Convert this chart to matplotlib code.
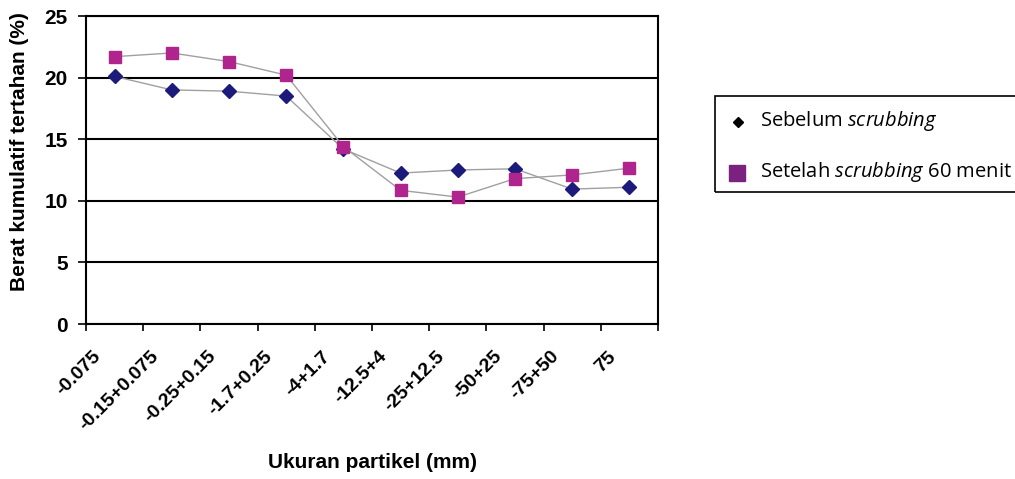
import matplotlib
matplotlib.use("Agg")
import matplotlib.pyplot as plt
from matplotlib.lines import Line2D
from matplotlib.patches import Rectangle
from matplotlib.transforms import ScaledTranslation

categories = ["-0.075", "-0.15+0.075", "-0.25+0.15", "-1.7+0.25", "-4+1.7",
              "-12.5+4", "-25+12.5", "-50+25", "-75+50", "75"]
sebelum = [20.1, 19.0, 18.9, 18.5, 14.2, 12.25, 12.5, 12.6, 10.95, 11.1]
setelah = [21.7, 22.0, 21.3, 20.2, 14.4, 10.85, 10.3, 11.8, 12.1, 12.65]
yticks = [0, 5, 10, 15, 20, 25]

plt.rcParams['mathtext.fontset'] = 'custom'
plt.rcParams['mathtext.rm'] = 'Open Sans'
plt.rcParams['mathtext.it'] = 'Open Sans:italic'

W, H = 1015, 479
fig = plt.figure(figsize=(W/100, H/100), dpi=100)
ax = fig.add_axes([86/W, 1-324/H, (658-86)/W, (324-16)/H])

FS = 15
x = list(range(len(categories)))
ax.plot(x, sebelum, color='#a0a0a0', lw=1.0, marker='D', markersize=7,
        markerfacecolor='#1c1a7a', markeredgecolor='#1c1a7a', zorder=3)
ax.plot(x, setelah, color='#a0a0a0', lw=1.0, marker='s', markersize=8,
        markerfacecolor='#b0248e', markeredgecolor='#b0248e', zorder=3)

ax.set_xlim(-0.5, len(categories)-0.5)
ax.set_ylim(0, 25)
ax.set_yticks(yticks)
ax.set_yticklabels([str(v) for v in yticks], fontfamily='Liberation Sans',
                   fontweight='bold', fontsize=FS)
ax.yaxis.grid(True, color='black', lw=1.5)
ax.set_axisbelow(True)

ax.set_xticks([i-0.5 for i in range(len(categories)+1)])
ax.set_xticklabels([])
ax.set_xticks(x, minor=True)
ax.set_xticklabels(categories, minor=True, rotation=45, ha='right', va='center',
                   rotation_mode='anchor', fontfamily='Liberation Sans',
                   fontweight='bold', fontsize=14)
ax.tick_params(axis='x', which='minor', length=0, pad=0)
off = ScaledTranslation(-16/100, -30/100, fig.dpi_scale_trans)
for lab in ax.get_xticklabels(minor=True):
    lab.set_transform(lab.get_transform() + off)
ax.tick_params(axis='x', which='major', length=5, width=1.2, direction='out')
ax.tick_params(axis='y', length=6, width=1.2, direction='out', pad=7)
for s in ax.spines.values():
    s.set_linewidth(1.5)
    s.set_color('black')

fig.text(20/W, 1-152/H, "Berat kumulatif tertahan (%)", fontfamily='Liberation Sans',
         fontweight='bold', fontsize=FS, rotation=90, ha='center', va='center')
fig.text(372/W, 1-463/H, "Ukuran partikel (mm)", fontfamily='Liberation Sans',
         fontweight='bold', fontsize=FS, ha='center', va='center')

# legend
fig.patches.append(Rectangle((715/W, 1-192/H), (1030-715)/W, (192-96)/H,
                             transform=fig.transFigure, fill=False,
                             edgecolor='black', lw=1.2))
fig.lines.append(Line2D([738/W], [1-122/H], transform=fig.transFigure,
                        marker='D', markersize=5, color='black', linestyle='none'))
fig.lines.append(Line2D([737/W], [1-173/H], transform=fig.transFigure,
                        marker='s', markersize=11.5, color='#7b2180', linestyle='none'))
fig.text(760/W, 1-121/H, r"Sebelum $scrubbing$", fontfamily='Open Sans',
         fontsize=14.5, ha='left', va='center')
fig.text(760/W, 1-172/H, r"Setelah $scrubbing$ 60 menit", fontfamily='Open Sans',
         fontsize=14.5, ha='left', va='center')

fig.savefig("out.png", dpi=100)
